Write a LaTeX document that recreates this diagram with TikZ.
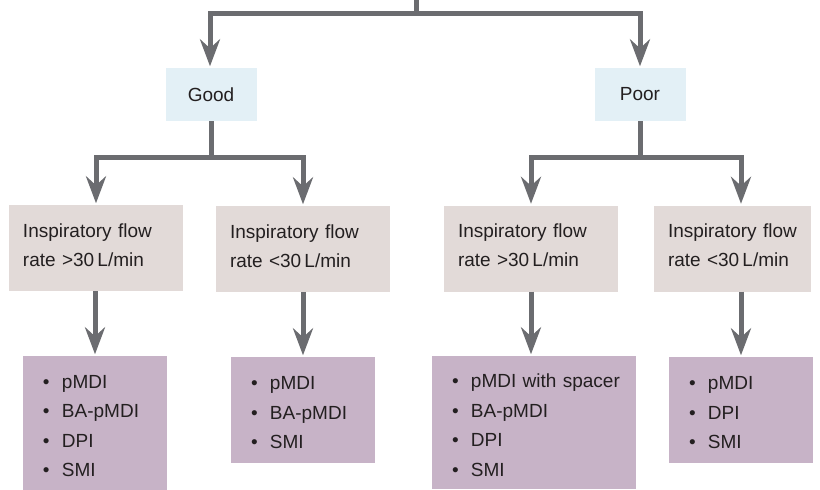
\documentclass[tikz,border=0pt]{standalone}
\usepackage{fontspec}
\setmainfont{Liberation Sans}
\usetikzlibrary{arrows.meta}
\definecolor{linegray}{HTML}{6B6C70}
\definecolor{goodblue}{HTML}{E3F0F6}
\definecolor{ratebeige}{HTML}{E2DAD8}
\definecolor{listpurple}{HTML}{C7B3C7}
\definecolor{textdark}{HTML}{231F20}
\newcommand{\bitem}[1]{\hspace*{20pt}\makebox[19pt][l]{\textbullet}#1}
\newcommand{\firstup}{\rule{0pt}{19pt}}
\newcommand{\lastdn}{\rule[-6pt]{0pt}{6pt}}
\begin{document}
\begin{tikzpicture}[x=1pt,y=-1pt,
  qbox/.style={fill=goodblue, inner sep=0pt, minimum width=91pt, minimum height=53pt,
    text=textdark, font=\fontsize{19}{23}\selectfont},
  rbox/.style={fill=ratebeige, inner xsep=14pt, inner ysep=0pt, text width=#1,
    minimum height=86pt, align=left, text=textdark, font=\fontsize{19}{29}\selectfont},
  lbox/.style={fill=listpurple, inner sep=0pt, text width=#1, align=left,
    text=textdark, font=\fontsize{19}{29.5}\selectfont},
  conn/.style={draw=linegray, line width=5pt},
  arr/.style={conn, -{Stealth[length=27pt, width=20pt, inset=9pt]}, shorten >=1.5pt}
]
\useasboundingbox (0,0) rectangle (820,490);

% level 1
\node[qbox] (good) at (211,94.5) {Good};
\node[qbox] (poor) at (640,94.5) {Poor};

% level 2
\node[rbox=146pt] (b1) at (96,248) {Inspiratory flow\\rate >30\,L/min\lastdn};
\node[rbox=146pt] (b2) at (303,249) {Inspiratory flow\\rate <30\,L/min\lastdn};
\node[rbox=146pt] (b3) at (531,248.5) {Inspiratory flow\\rate >30\,L/min\lastdn};
\node[rbox=129pt] (b4) at (732.5,248.5) {Inspiratory flow\\rate <30\,L/min\lastdn};

% level 3
\node[lbox=144pt, minimum height=134pt] (b5) at (95,423)
  {\bitem{pMDI}\firstup\\\bitem{BA-pMDI}\\\bitem{DPI}\\\bitem{SMI}};
\node[lbox=144pt, minimum height=106pt] (b6) at (303,410)
  {\bitem{pMDI}\firstup\\\bitem{BA-pMDI}\\\bitem{SMI}};
\node[lbox=204pt, minimum height=133pt] (b7) at (534,422.5)
  {\bitem{pMDI with spacer}\firstup\\\bitem{BA-pMDI}\\\bitem{DPI}\\\bitem{SMI}};
\node[lbox=144pt, minimum height=106pt] (b8) at (741,410)
  {\bitem{pMDI}\firstup\\\bitem{DPI}\\\bitem{SMI}};

% connectors
\coordinate (top) at (416,0);
\coordinate (tj) at (416,13);
\coordinate (gj) at (good.south |- 0,157);
\coordinate (pj) at (poor.south |- 0,157);

\draw[conn] (top) -- (tj);
\draw[arr] (tj) -| ([xshift=-1pt]good.north);
\draw[arr] (tj) -| (poor.north);

\draw[conn] (good.south) -- (gj);
\draw[arr] (gj) -| (b1.north);
\draw[arr] (gj) -| (b2.north);

\draw[conn] (poor.south) -- (pj);
\draw[arr] (pj) -| (b3.north);
\draw[arr] (pj) -| (b4.north -| b8.north);

\draw[arr] (b1.south -| b5.north) -- (b5.north);
\draw[arr] (b2.south) -- (b2.south |- b6.north);
\draw[arr] (b3.south) -- (b3.south |- b7.north);
\draw[arr] (b4.south -| b8.north) -- (b8.north);
\end{tikzpicture}
\end{document}
